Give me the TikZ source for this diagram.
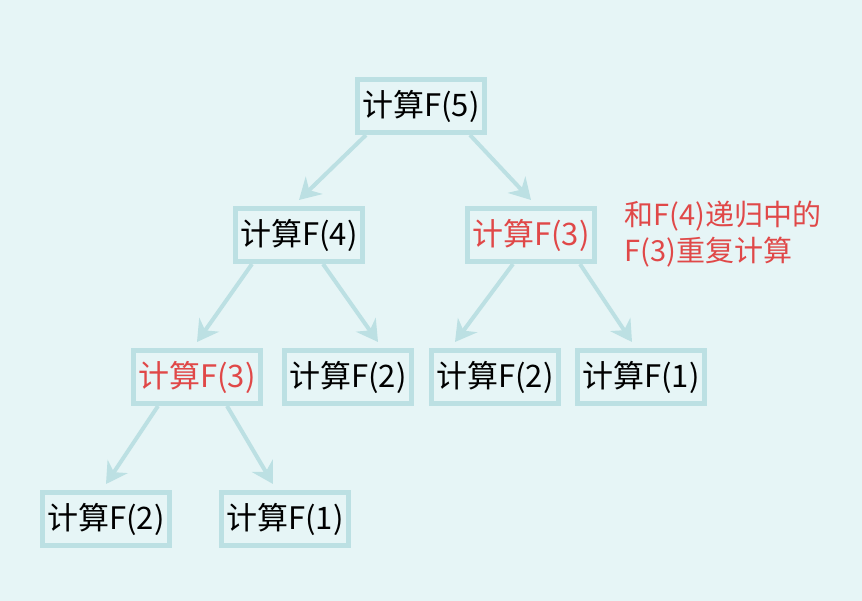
\documentclass[tikz,border=0pt]{standalone}
\usepackage{fontspec}
\setmainfont{Noto Sans CJK SC}
\usetikzlibrary{arrows.meta}
\definecolor{boxblue}{HTML}{BCE0E3}
\definecolor{bgdots}{HTML}{E6F5F6}
\definecolor{repred}{HTML}{E04848}
\begin{document}
\begin{tikzpicture}[x = 1pt, y = -1pt,
		calcbox/.style = {draw = boxblue, line width = 5pt, minimum width = 127pt, minimum height = 53pt, inner sep = 0pt, font = \fontsize{31}{34}\selectfont},
		link/.style = {draw = boxblue, line width = 4pt, -{Stealth[length = 21pt, width = 24pt]}}]
					\useasboundingbox [fill = bgdots] (0, 0) rectangle (862, 601);

					\node [calcbox] (f5) at (421, 106) {计算F(5)};
					\node [calcbox] (f4) at (299, 235) {计算F(4)};
					\node [calcbox, text = repred] (f3) at (531, 235) {计算F(3)};
					\node [calcbox, text = repred] (f3a) at (197, 377) {计算F(3)};
					\node [calcbox] (f2a) at (348, 377) {计算F(2)};
					\node [calcbox] (f2b) at (495, 377) {计算F(2)};
					\node [calcbox] (f1a) at (641, 377) {计算F(1)};
					\node [calcbox] (f2c) at (106, 519) {计算F(2)};
					\node [calcbox] (f1b) at (285, 519) {计算F(1)};

					\node [anchor = west, align = left, text = repred, font = \fontsize{29}{36}\selectfont] (note) at (621, 234) {和F(4)递归中的\\F(3)重复计算};

					\draw [link] ([xshift = -55pt] f5.south) -- ([yshift = 6pt] f4.north);
					\draw [link] ([xshift = 49pt] f5.south) -- ([yshift = 6pt] f3.north);
					\draw [link] ([xshift = -47pt] f4.south) -- ([yshift = 6pt] f3a.north);
					\draw [link] ([xshift = 24pt] f4.south) -- ([xshift = 30pt, yshift = 6pt] f2a.north);
					\draw [link] ([xshift = -18pt] f3.south) -- ([xshift = -40pt, yshift = 6pt] f2b.north);
					\draw [link] ([xshift = 49pt] f3.south) -- ([xshift = -9pt, yshift = 6pt] f1a.north);
					\draw [link] ([xshift = -39pt] f3a.south) -- ([yshift = 6pt] f2c.north);
					\draw [link] ([xshift = 30pt] f3a.south) -- ([xshift = -12pt, yshift = 6pt] f1b.north);
				\end{tikzpicture}
\end{document}
